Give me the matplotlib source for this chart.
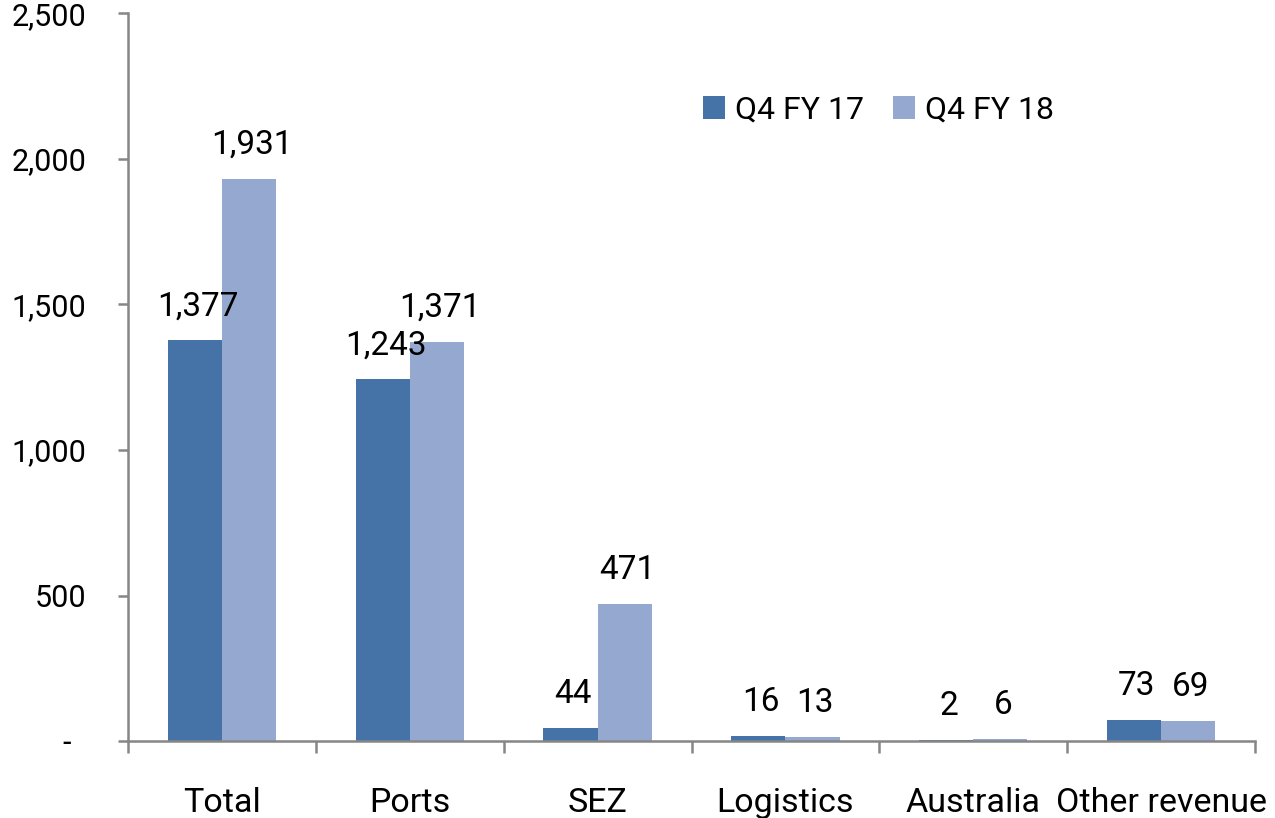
import numpy as np
from matplotlib import pyplot as plt

categories = ["Total", "Ports", "SEZ", "Logistics", "Australia", "Other revenue"]
q4_fy17 = [1377, 1243, 44, 16, 2, 73]
q4_fy18 = [1931, 1371, 471, 13, 6, 69]
series_names = ["Q4 FY 17", "Q4 FY 18"]
y_ticks = [0, 500, 1000, 1500, 2000, 2500]
y_tick_labels = ["-  ", "500", "1,000", "1,500", "2,000", "2,500"]

# plot settings
plt.rcParams["font.family"] = ["Roboto", "DejaVu Sans"]
axis_grey = "#868686"
dark_blue = "#4572A7"
light_blue = "#95A9D0"

fig = plt.figure(figsize=(12.75, 8.18), dpi=100)
ax = fig.add_axes([128 / 1275, 1 - 741 / 818, (1255 - 128) / 1275, (741 - 13.5) / 818])

x = np.arange(len(categories)) + 0.5
width = 0.288
bars1 = ax.bar(x - width / 2, q4_fy17, width, color=dark_blue, label=series_names[0])
bars2 = ax.bar(x + width / 2, q4_fy18, width, color=light_blue, label=series_names[1])

# value labels above each bar
for bars, values in ((bars1, q4_fy17), (bars2, q4_fy18)):
    for bar, val in zip(bars, values):
        ax.annotate(
            f"{val:,}",
            (bar.get_x() + bar.get_width() / 2, bar.get_height()),
            xytext=(2, 18),
            textcoords="offset points",
            ha="center",
            va="baseline",
            fontsize=24,
            zorder=5,
        )

ax.set_xlim(0, len(categories))
ax.set_ylim(0, 2500)

ax.set_xticks(x)
ax.set_xticklabels(categories, fontsize=24.5)
ax.set_xticks(np.arange(len(categories) + 1), minor=True)
ax.tick_params(axis="x", which="major", length=0, pad=33)
ax.tick_params(axis="x", which="minor", length=8.5, width=1.8, color=axis_grey, direction="out")

ax.set_yticks(y_ticks)
ax.set_yticklabels(y_tick_labels, fontsize=22)
ax.tick_params(axis="y", length=7, width=1.8, color=axis_grey, pad=23)

for side in ("top", "right"):
    ax.spines[side].set_visible(False)
for side in ("left", "bottom"):
    ax.spines[side].set_color(axis_grey)
    ax.spines[side].set_linewidth(1.8)

fig.legend(
    loc="center left",
    bbox_to_anchor=(703 / 1275, 1 - 110 / 818),
    ncol=2,
    frameon=False,
    fontsize=23,
    handlelength=0.7,
    handleheight=0.7,
    handletextpad=0.3,
    columnspacing=0.9,
    borderpad=0,
    borderaxespad=0,
)

fig.savefig("out.png", dpi=100)
plt.close()
